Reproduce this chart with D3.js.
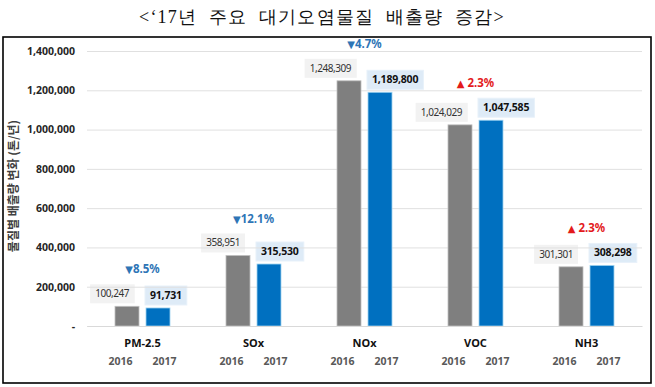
<!DOCTYPE html>
<html><head><meta charset="utf-8">
<script src="https://cdn.jsdelivr.net/npm/d3@7"></script>
<style>
body{margin:0;background:#fff;}
svg{display:block;font-family:"Noto Sans CJK KR","Noto Sans",sans-serif;}
</style></head>
<body><svg id="c" width="655" height="387"></svg>
<script>
const title = "<‘17년 주요 대기오염물질 배출량 증감>";
const yAxisTitle = "물질별 배출량 변화 (톤/년)";
const categories = ["PM-2.5","SOx","NOx","VOC","NH3"];
const years = ["2016","2017"];
const values2016 = [100247, 358951, 1248309, 1024029, 301301];
const values2017 = [91731, 315530, 1189800, 1047585, 308298];
const changeLabels = ["8.5%","12.1%","4.7%"," 2.3%"," 2.3%"];
const changeDir = ["down","down","down","up","up"];
const yTicks = [0,200000,400000,600000,800000,1000000,1200000,1400000];

(function(){
const svg = d3.select("#c");
const pL=87,pR=642,pT=51,pB=326;

svg.append("rect").attr("x",3).attr("y",37).attr("width",648).attr("height",346)
  .attr("fill","none").attr("stroke","#000").attr("stroke-width",1.6);

svg.append("text").attr("x",322).attr("y",23).attr("text-anchor","middle")
  .attr("font-family","'Liberation Serif','DejaVu Serif',serif").attr("font-size",18)
  .attr("letter-spacing",1.2).attr("word-spacing",6).attr("fill","#111").text(title);

const x = d3.scaleBand().domain(categories).range([pL,pR]).padding(0);
const y = d3.scaleLinear().domain([0,1400000]).range([pB,pT]);

const boxLayer = svg.append("g");

const grid = svg.append("g").attr("transform",`translate(${pL},0)`)
  .call(d3.axisLeft(y).tickValues(yTicks).tickSize(-(pR-pL)).tickFormat(""));
grid.select(".domain").remove();
grid.selectAll("line").attr("stroke","#e0e0e0").attr("stroke-width",1);

const fmt = d3.format(",");
const ya = svg.append("g").attr("transform",`translate(75,0)`)
  .call(d3.axisLeft(y).tickValues(yTicks).tickSize(0).tickPadding(0).tickFormat(d=>d===0?"-":fmt(d)));
ya.select(".domain").remove();
ya.selectAll("text").attr("font-size",10.5).attr("font-weight","bold").attr("fill","#262626")
  .attr("font-family","'Noto Sans','Open Sans',sans-serif");

svg.append("text").attr("transform","translate(18,186) rotate(-90)").attr("text-anchor","middle")
  .attr("font-size",12).attr("font-weight","bold").attr("fill","#404040").text(yAxisTitle);

const barW = 24, gap = 3.5;
const data = categories.map((c,i)=>({c,v16:values2016[i],v17:values2017[i],lab:changeLabels[i],dir:changeDir[i]}));

const g = svg.append("g");
g.selectAll(".b16").data(data).enter().append("rect")
  .attr("x",d=>x(d.c)+x.bandwidth()/2-gap-barW).attr("width",barW)
  .attr("y",d=>y(d.v16)).attr("height",d=>pB-y(d.v16))
  .attr("fill","#7f7f7f").attr("stroke","#bfbfbf").attr("stroke-width",0.8);
g.selectAll(".b17").data(data).enter().append("rect")
  .attr("x",d=>x(d.c)+x.bandwidth()/2+gap).attr("width",barW)
  .attr("y",d=>y(d.v17)).attr("height",d=>pB-y(d.v17))
  .attr("fill","#0070c0").attr("stroke","#9dd3f0").attr("stroke-width",0.8);

data.forEach(d=>{
  const bx = x(d.c)+x.bandwidth()/2-gap;
  const by = y(d.v16)-3;
  const t = svg.append("text").attr("x",bx-10).attr("y",by-6).attr("text-anchor","end")
    .attr("font-size",10).attr("letter-spacing",-0.45).attr("fill","#333")
    .attr("font-family","'Noto Sans',sans-serif").text(fmt(d.v16));
  const bb = t.node().getBBox();
  boxLayer.append("rect").attr("x",bb.x-5).attr("y",by-19).attr("width",bb.width+10).attr("height",19)
    .attr("fill","#f2f2f2");
});
data.forEach(d=>{
  const bx = x(d.c)+x.bandwidth()/2+gap;
  const by = y(d.v17)-3;
  const t = svg.append("text").attr("x",bx+4).attr("y",by-6).attr("text-anchor","start")
    .attr("font-size",10.5).attr("font-weight","bold").attr("letter-spacing",-0.2).attr("fill","#111")
    .attr("font-family","'Noto Sans',sans-serif").text(fmt(d.v17));
  const bb = t.node().getBBox();
  boxLayer.append("rect").attr("x",bb.x-5).attr("y",by-19).attr("width",bb.width+10).attr("height",19)
    .attr("fill","#deebf7").attr("stroke","#e8f1fa").attr("stroke-width",1);
});

const chg = svg.selectAll(".chg").data(data).enter().append("text")
  .attr("x",d=>x(d.c)+x.bandwidth()/2).attr("y",d=>y(Math.max(d.v16,d.v17))-37)
  .attr("dy","0.35em").attr("text-anchor","middle")
  .attr("font-size",11.5).attr("font-weight","bold")
  .attr("font-family","'Noto Sans',sans-serif")
  .attr("fill",d=>d.dir==="down"?"#2e75b6":"#e31a1c");
chg.append("tspan").attr("font-family","'DejaVu Sans',sans-serif").attr("font-size",10)
  .attr("font-weight","normal").text(d=>d.dir==="down"?"▼":"▲");
chg.append("tspan").text(d=>d.lab);

const xa = svg.append("g").attr("transform",`translate(0,${pB})`)
  .call(d3.axisBottom(x).tickSize(0).tickPadding(13));
xa.select(".domain").attr("stroke","#d9d9d9");
xa.selectAll("text").attr("font-size",11).attr("font-weight","bold").attr("fill","#111")
  .attr("font-family","'Noto Sans',sans-serif");

data.forEach(d=>{
  const cx = x(d.c)+x.bandwidth()/2;
  years.forEach((yr,j)=>{
    svg.append("text").attr("x",cx+(j===0?-22:22)).attr("y",361).attr("dy","0.35em")
      .attr("text-anchor","middle").attr("font-size",10.5).attr("font-weight","bold")
      .attr("fill","#595959").attr("font-family","'Noto Sans',sans-serif").text(yr);
  });
});
})();
</script></body></html>
